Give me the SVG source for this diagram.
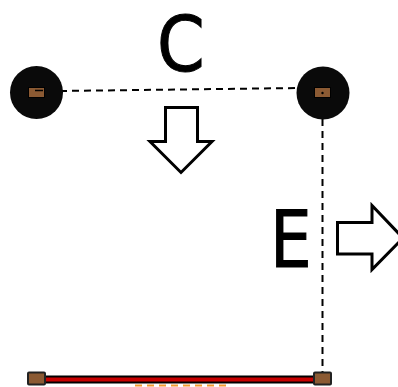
<svg xmlns="http://www.w3.org/2000/svg" width="398" height="387" viewBox="0 0 398 387">
<style>
.lbl{font-family:"DejaVu Sans",sans-serif;font-size:76px;fill:#000;stroke:#000;stroke-width:1}
.arrow{fill:#fff;stroke:#000;stroke-width:3}
.dash{fill:none;stroke:#000;stroke-width:2;stroke-dasharray:7 5}
.pin{fill:#8b5a33;stroke:#000;stroke-width:1}
.cap{fill:#8b5a33;stroke:#222;stroke-width:2}
</style>
<g id="beam">
<line x1="45" y1="379.500" x2="314" y2="379.500" stroke="#000" stroke-width="8"/>
<line x1="45" y1="379.500" x2="314" y2="379.500" stroke="#c80000" stroke-width="4"/>
<line x1="135" y1="385.500" x2="231" y2="385.500" stroke="#f39a2e" stroke-width="2" stroke-dasharray="7 5"/>
</g>
<g id="connectors">
<line class="dash" x1="60" y1="91" x2="298" y2="88"/>
<line class="dash" x1="322.500" y1="119" x2="322.500" y2="372"/>
</g>
<g id="node-left">
<circle cx="36.500" cy="92.500" r="26.500" fill="#0a0a0a"/>
<rect class="pin" x="28.500" y="87.500" width="16" height="10"/>
<line x1="35" y1="90.500" x2="43" y2="90.500" stroke="#000" stroke-width="1.500"/>
</g>
<g id="node-right">
<circle cx="323" cy="93" r="26.500" fill="#0a0a0a"/>
<rect class="pin" x="314.500" y="87.500" width="16" height="10"/>
<circle cx="322.500" cy="93" r="1.200" fill="#000"/>
</g>
<g id="cap-left"><rect class="cap" x="28" y="372.500" width="17" height="12" rx="1"/></g>
<g id="cap-right"><rect class="cap" x="314" y="372.500" width="17" height="12" rx="1"/></g>
<g id="label-c"><text class="lbl" transform="translate(157,71) scale(.9,1)">C</text></g>
<g id="label-e"><text class="lbl" transform="translate(270,267) scale(.87,1.03)">E</text></g>
<g id="arrow-down"><polygon class="arrow" points="165.500,107.500 197.500,107.500 197.500,141.500 212,141.500 181,172.500 150,141.500 165.500,141.500"/></g>
<g id="arrow-right"><polygon class="arrow" points="337.500,222.500 372,222.500 372,205.500 403,238 372,269.500 372,254 337.500,254"/></g>
</svg>
